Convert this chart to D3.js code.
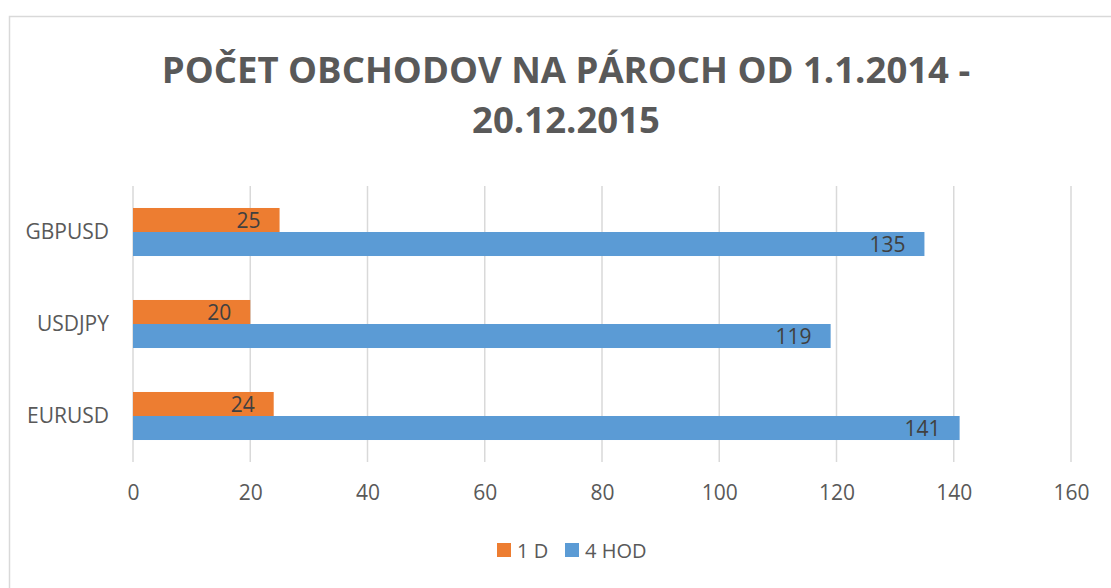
<!DOCTYPE html>
<html>
<head>
<meta charset="utf-8">
<script src="https://cdn.jsdelivr.net/npm/d3@7"></script>
<style>
  html, body { margin: 0; padding: 0; background: #fff; }
  svg { display: block; }
</style>
</head>
<body>
<svg id="chart" width="1111" height="588"></svg>
<script>
const titleLines = ["POČET OBCHODOV NA PÁROCH OD 1.1.2014 -", "20.12.2015"];
const categories = ["GBPUSD", "USDJPY", "EURUSD"];
const seriesNames = ["1 D", "4 HOD"];
const values1D = [25, 20, 24];
const values4HOD = [135, 119, 141];
const xTicks = [0, 20, 40, 60, 80, 100, 120, 140, 160];
const colors = ["#ED7D31", "#5B9BD5"];

const FONT = "'Open Sans', 'Liberation Sans', sans-serif";
const svg = d3.select("#chart");

// chart border
svg.append("rect")
  .attr("x", 9.5).attr("y", 16.5)
  .attr("width", 1120).attr("height", 600)
  .attr("fill", "#fff").attr("stroke", "#D9D9D9").attr("stroke-width", 1.5);

// title
svg.append("g").selectAll("text").data(titleLines).join("text")
  .attr("x", 566).attr("y", (d, i) => 83 + i * 50)
  .attr("text-anchor", "middle")
  .attr("font-family", FONT).attr("font-weight", 700)
  .attr("font-size", 36.5).attr("fill", "#595959")
  .text(d => d);

const x = d3.scaleLinear().domain([0, 160]).range([133, 1071]);
const y = d3.scaleBand().domain(categories).range([186, 462])
  .paddingInner(0.478).paddingOuter(0.239);
const ys = d3.scaleBand().domain(seriesNames).range([0, y.bandwidth()]);

// gridlines
svg.append("g").selectAll("line").data(xTicks).join("line")
  .attr("x1", d => x(d)).attr("x2", d => x(d))
  .attr("y1", 186).attr("y2", 462)
  .attr("stroke", "#D9D9D9").attr("stroke-width", 1.5);

// x axis labels
const xAxis = d3.axisBottom(x).tickValues(xTicks).tickSize(0).tickPadding(0);
const gx = svg.append("g").attr("transform", "translate(0,480)").call(xAxis);
gx.select(".domain").remove();
gx.selectAll("text")
  .attr("font-family", FONT).attr("font-size", 21).attr("fill", "#595959")
  .attr("dy", null).attr("y", 20);

// y axis labels
const yAxis = d3.axisLeft(y).tickSize(0).tickPadding(0);
const gy = svg.append("g").attr("transform", "translate(109,0)").call(yAxis);
gy.select(".domain").remove();
gy.selectAll("text")
  .attr("font-family", FONT).attr("font-size", 21).attr("fill", "#595959")
  .attr("dy", "0.35em");

// bars
const rows = categories.map((c, i) => ({
  cat: c,
  vals: [
    { s: seriesNames[0], v: values1D[i], c: colors[0] },
    { s: seriesNames[1], v: values4HOD[i], c: colors[1] }
  ]
}));
const groups = svg.append("g").selectAll("g").data(rows).join("g")
  .attr("transform", d => `translate(0,${y(d.cat)})`);
groups.selectAll("rect").data(d => d.vals).join("rect")
  .attr("x", x(0)).attr("y", d => ys(d.s))
  .attr("width", d => x(d.v) - x(0)).attr("height", ys.bandwidth())
  .attr("fill", d => d.c);
groups.selectAll("text").data(d => d.vals).join("text")
  .attr("x", d => x(d.v) - 19)
  .attr("y", d => ys(d.s) + ys.bandwidth() / 2)
  .attr("dy", "0.36em")
  .attr("text-anchor", "end")
  .attr("font-family", FONT).attr("font-size", 21).attr("fill", "#404040")
  .text(d => d.v);

// legend
const legend = svg.append("g");
const legX = [497, 565];
const li = legend.selectAll("g").data(seriesNames).join("g")
  .attr("transform", (d, i) => `translate(${legX[i]},543)`);
li.append("rect").attr("width", 14).attr("height", 14).attr("fill", (d, i) => colors[i]);
li.append("text").attr("x", 20).attr("y", 15)
  .attr("font-family", FONT).attr("font-size", 20).attr("fill", "#595959")
  .text(d => d);
</script>
</body>
</html>
